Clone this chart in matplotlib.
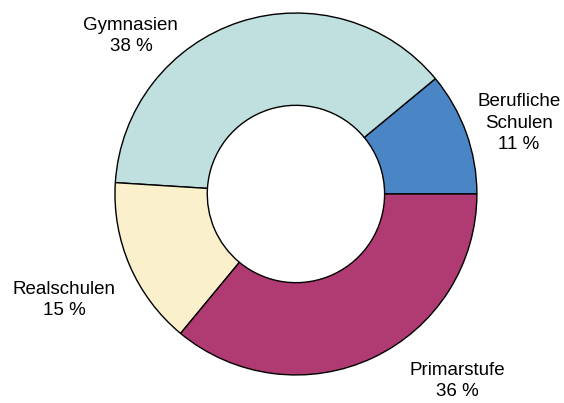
import matplotlib.pyplot as plt

plt.rcParams['font.family'] = ['Liberation Sans', 'DejaVu Sans']

categories = ['Berufliche\nSchulen', 'Gymnasien', 'Realschulen', 'Primarstufe']
shares = [11, 38, 15, 36]
colors = ['#4a86c5', '#c0e0e0', '#faf0cc', '#b03a72']
label_pos = [(1.232, 0.392), (-0.912, 0.873), (-1.282, -0.586), (0.890, -1.033)]

fig = plt.figure(figsize=(5.64, 4.03), dpi=100)
ax = fig.add_axes([0, 0, 1, 1])

ax.pie(shares, colors=colors, startangle=0, counterclock=True, radius=1.0,
       wedgeprops=dict(width=0.51, edgecolor='black', linewidth=1.0))

for name, val, (x, y) in zip(categories, shares, label_pos):
    ax.text(x, y, f'{name}\n{val} %', ha='center', va='center', fontsize=13.5,
            linespacing=1.35)

ax.set_xlim(-1.635, 1.481)
ax.set_ylim(-1.155, 1.072)
ax.set_aspect('equal')
ax.axis('off')

fig.savefig('out.png', dpi=100)
